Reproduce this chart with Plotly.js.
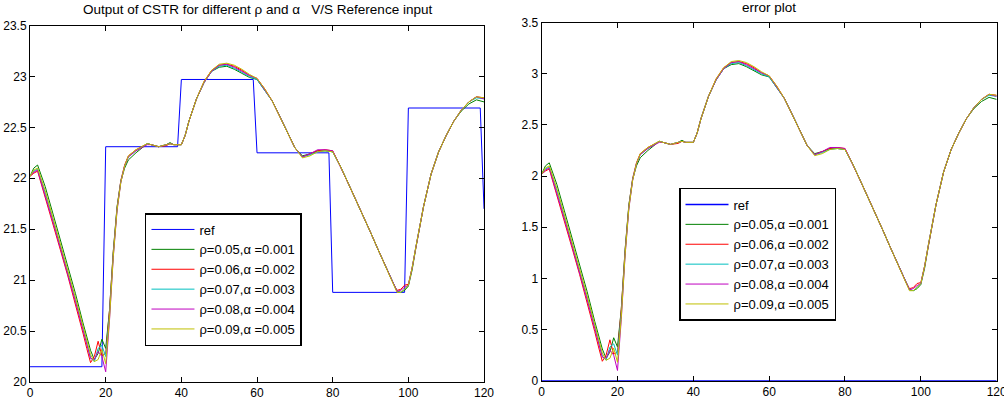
<!DOCTYPE html>
<html>
<head>
<meta charset="utf-8">
<script src="https://cdn.plot.ly/plotly-3.0.1.min.js"></script>
<style>
  html, body { margin: 0; padding: 0; background: #ffffff; }
  #chart { width: 1004px; height: 414px; }
</style>
</head>
<body>
<div id="chart"></div>
<script>
// Sample times shared by the controller output curves
const t = [0, 1, 2, 4, 6, 8, 10, 12, 14, 15, 16, 17, 18, 19, 20, 21, 22, 23, 24, 25, 26, 28, 30, 31, 32, 34, 36, 37, 38, 40,
           41, 42, 44, 46, 48, 50, 52, 54, 56, 58, 60, 62, 64, 66, 68, 70, 72, 74, 76, 78, 80, 82, 84, 86, 88, 90, 92, 94, 96, 97,
           98, 99, 100, 101, 102, 104, 106, 108, 110, 112, 114, 116, 118, 120];

// Reference input (staircase)
const refT = [0, 19, 20, 39, 40, 59, 60, 79, 80, 99, 100, 119, 120];
const refY = [20.15, 20.15, 22.31, 22.31, 22.97, 22.97, 22.25, 22.25, 20.88, 20.88, 22.69, 22.69, 21.70];

// CSTR output for each (rho, alpha) pair
const out1 = [22.02, 22.10, 22.13, 21.92, 21.66, 21.40, 21.14, 20.87, 20.58, 20.45, 20.31, 20.22, 20.28, 20.42, 20.33, 20.70, 21.28, 21.72, 21.97, 22.10, 22.18, 22.25, 22.31, 22.34, 22.33, 22.31, 22.33, 22.35, 22.33, 22.33,
              22.42, 22.56, 22.78, 22.94, 23.05, 23.09, 23.10, 23.07, 23.03, 22.99, 22.97, 22.87, 22.76, 22.61, 22.46, 22.30, 22.22, 22.24, 22.27, 22.27, 22.26, 22.12, 21.96, 21.80, 21.64, 21.47, 21.30, 21.13, 20.97, 20.89,
              20.88, 20.90, 20.94, 21.10, 21.32, 21.72, 22.04, 22.26, 22.42, 22.56, 22.66, 22.73, 22.77, 22.75];
const out2 = [22.02, 22.05, 22.07, 21.82, 21.56, 21.30, 21.04, 20.77, 20.48, 20.33, 20.19, 20.25, 20.40, 20.26, 20.28, 20.70, 21.27, 21.71, 21.98, 22.13, 22.22, 22.28, 22.32, 22.34, 22.33, 22.31, 22.32, 22.34, 22.33, 22.33,
              22.42, 22.56, 22.78, 22.95, 23.06, 23.11, 23.12, 23.10, 23.06, 23.01, 22.98, 22.88, 22.76, 22.61, 22.46, 22.30, 22.21, 22.24, 22.27, 22.28, 22.27, 22.12, 21.96, 21.80, 21.64, 21.47, 21.30, 21.13, 20.97, 20.90,
              20.91, 20.95, 20.96, 21.12, 21.33, 21.72, 22.04, 22.26, 22.42, 22.56, 22.67, 22.75, 22.80, 22.79];
const out3 = [22.02, 22.07, 22.09, 21.86, 21.60, 21.34, 21.08, 20.81, 20.53, 20.39, 20.24, 20.20, 20.33, 20.36, 20.25, 20.66, 21.25, 21.70, 21.97, 22.12, 22.21, 22.27, 22.32, 22.34, 22.33, 22.31, 22.33, 22.34, 22.33, 22.33,
              22.42, 22.56, 22.78, 22.94, 23.05, 23.10, 23.11, 23.08, 23.04, 23.00, 22.97, 22.87, 22.76, 22.61, 22.46, 22.30, 22.21, 22.23, 22.26, 22.27, 22.26, 22.12, 21.96, 21.80, 21.64, 21.47, 21.30, 21.13, 20.97, 20.89,
              20.88, 20.91, 20.95, 21.12, 21.33, 21.72, 22.04, 22.26, 22.42, 22.56, 22.67, 22.75, 22.79, 22.78];
const out4 = [22.02, 22.06, 22.08, 21.84, 21.58, 21.32, 21.06, 20.79, 20.51, 20.37, 20.23, 20.22, 20.30, 20.25, 20.10, 20.60, 21.22, 21.68, 21.96, 22.12, 22.21, 22.27, 22.31, 22.33, 22.33, 22.31, 22.33, 22.34, 22.33, 22.33,
              22.42, 22.56, 22.78, 22.94, 23.05, 23.11, 23.12, 23.09, 23.05, 23.01, 22.98, 22.87, 22.76, 22.61, 22.46, 22.30, 22.21, 22.24, 22.28, 22.28, 22.27, 22.12, 21.96, 21.80, 21.64, 21.47, 21.30, 21.13, 20.97, 20.89,
              20.90, 20.93, 20.95, 21.12, 21.33, 21.72, 22.04, 22.26, 22.42, 22.56, 22.67, 22.75, 22.80, 22.78];
const out5 = [22.02, 22.08, 22.10, 21.88, 21.62, 21.36, 21.10, 20.83, 20.55, 20.41, 20.27, 20.20, 20.22, 20.32, 20.18, 20.62, 21.23, 21.69, 21.96, 22.12, 22.22, 22.28, 22.32, 22.34, 22.33, 22.31, 22.33, 22.34, 22.33, 22.33,
              22.42, 22.56, 22.78, 22.95, 23.06, 23.12, 23.13, 23.11, 23.07, 23.02, 22.98, 22.88, 22.76, 22.61, 22.46, 22.30, 22.20, 22.22, 22.26, 22.27, 22.26, 22.12, 21.96, 21.80, 21.64, 21.47, 21.30, 21.13, 20.97, 20.88,
              20.88, 20.91, 20.95, 21.12, 21.33, 21.72, 22.04, 22.26, 22.42, 22.56, 22.67, 22.75, 22.80, 22.79];

// Error plot: reference line and the curves for each (rho, alpha) pair
const errRefT = [0, 120];
const errRefY = [0, 0];
const err1 = [2.02, 2.10, 2.13, 1.92, 1.66, 1.40, 1.14, 0.87, 0.58, 0.45, 0.31, 0.22, 0.28, 0.42, 0.33, 0.70, 1.28, 1.72, 1.97, 2.10, 2.18, 2.25, 2.31, 2.34, 2.33, 2.31, 2.33, 2.35, 2.33, 2.33,
              2.42, 2.56, 2.78, 2.94, 3.05, 3.09, 3.10, 3.07, 3.03, 2.99, 2.97, 2.87, 2.76, 2.61, 2.46, 2.30, 2.22, 2.24, 2.27, 2.27, 2.26, 2.12, 1.96, 1.80, 1.64, 1.47, 1.30, 1.13, 0.97, 0.89,
              0.88, 0.90, 0.94, 1.10, 1.32, 1.72, 2.04, 2.26, 2.42, 2.56, 2.66, 2.73, 2.77, 2.75];
const err2 = [2.02, 2.05, 2.07, 1.82, 1.56, 1.30, 1.04, 0.77, 0.48, 0.33, 0.19, 0.25, 0.40, 0.26, 0.28, 0.70, 1.27, 1.71, 1.98, 2.13, 2.22, 2.28, 2.32, 2.34, 2.33, 2.31, 2.32, 2.34, 2.33, 2.33,
              2.42, 2.56, 2.78, 2.95, 3.06, 3.11, 3.12, 3.10, 3.06, 3.01, 2.98, 2.88, 2.76, 2.61, 2.46, 2.30, 2.21, 2.24, 2.27, 2.28, 2.27, 2.12, 1.96, 1.80, 1.64, 1.47, 1.30, 1.13, 0.97, 0.90,
              0.91, 0.95, 0.96, 1.12, 1.33, 1.72, 2.04, 2.26, 2.42, 2.56, 2.67, 2.75, 2.80, 2.79];
const err3 = [2.02, 2.07, 2.09, 1.86, 1.60, 1.34, 1.08, 0.81, 0.53, 0.39, 0.24, 0.20, 0.33, 0.36, 0.25, 0.66, 1.25, 1.70, 1.97, 2.12, 2.21, 2.27, 2.32, 2.34, 2.33, 2.31, 2.33, 2.34, 2.33, 2.33,
              2.42, 2.56, 2.78, 2.94, 3.05, 3.10, 3.11, 3.08, 3.04, 3.00, 2.97, 2.87, 2.76, 2.61, 2.46, 2.30, 2.21, 2.23, 2.26, 2.27, 2.26, 2.12, 1.96, 1.80, 1.64, 1.47, 1.30, 1.13, 0.97, 0.89,
              0.88, 0.91, 0.95, 1.12, 1.33, 1.72, 2.04, 2.26, 2.42, 2.56, 2.67, 2.75, 2.79, 2.78];
const err4 = [2.02, 2.06, 2.08, 1.84, 1.58, 1.32, 1.06, 0.79, 0.51, 0.37, 0.23, 0.22, 0.30, 0.25, 0.10, 0.60, 1.22, 1.68, 1.96, 2.12, 2.21, 2.27, 2.31, 2.33, 2.33, 2.31, 2.33, 2.34, 2.33, 2.33,
              2.42, 2.56, 2.78, 2.94, 3.05, 3.11, 3.12, 3.09, 3.05, 3.01, 2.98, 2.87, 2.76, 2.61, 2.46, 2.30, 2.21, 2.24, 2.28, 2.28, 2.27, 2.12, 1.96, 1.80, 1.64, 1.47, 1.30, 1.13, 0.97, 0.89,
              0.90, 0.93, 0.95, 1.12, 1.33, 1.72, 2.04, 2.26, 2.42, 2.56, 2.67, 2.75, 2.80, 2.78];
const err5 = [2.02, 2.08, 2.10, 1.88, 1.62, 1.36, 1.10, 0.83, 0.55, 0.41, 0.27, 0.20, 0.22, 0.32, 0.18, 0.62, 1.23, 1.69, 1.96, 2.12, 2.22, 2.28, 2.32, 2.34, 2.33, 2.31, 2.33, 2.34, 2.33, 2.33,
              2.42, 2.56, 2.78, 2.95, 3.06, 3.12, 3.13, 3.11, 3.07, 3.02, 2.98, 2.88, 2.76, 2.61, 2.46, 2.30, 2.20, 2.22, 2.26, 2.27, 2.26, 2.12, 1.96, 1.80, 1.64, 1.47, 1.30, 1.13, 0.97, 0.88,
              0.88, 0.91, 0.95, 1.12, 1.33, 1.72, 2.04, 2.26, 2.42, 2.56, 2.67, 2.75, 2.80, 2.79];

const seriesNames = ['ρ=0.05,α =0.001', 'ρ=0.06,α =0.002', 'ρ=0.07,α =0.003', 'ρ=0.08,α =0.004', 'ρ=0.09,α =0.005'];
const seriesColors = ['#008000', '#ff0000', '#00bfbf', '#bf00bf', '#bfbf00'];
const refColor = '#0000ff';
const xTicks = [0, 20, 40, 60, 80, 100, 120];

const FONT = 'Liberation Sans, Arial, Helvetica, sans-serif';

const outputs = [out1, out2, out3, out4, out5];
const errors = [err1, err2, err3, err4, err5];

const traces = [];
traces.push({ x: refT, y: refY, name: 'ref', type: 'scatter', mode: 'lines',
  line: { color: refColor, width: 1 }, xaxis: 'x', yaxis: 'y', legend: 'legend' });
outputs.forEach((ys, i) => traces.push({
  x: t, y: ys, name: seriesNames[i], type: 'scatter', mode: 'lines',
  line: { color: seriesColors[i], width: 1 }, xaxis: 'x', yaxis: 'y', legend: 'legend'
}));
traces.push({ x: errRefT, y: errRefY, name: 'ref', type: 'scatter', mode: 'lines',
  line: { color: refColor, width: 1.5 }, xaxis: 'x2', yaxis: 'y2', legend: 'legend2' });
errors.forEach((ys, i) => traces.push({
  x: t, y: ys, name: seriesNames[i], type: 'scatter', mode: 'lines',
  line: { color: seriesColors[i], width: 1 }, xaxis: 'x2', yaxis: 'y2', legend: 'legend2'
}));

function axisStyle(extra) {
  return Object.assign({
    showline: true, linecolor: '#000000', linewidth: 1, mirror: 'ticks',
    ticks: 'inside', ticklen: 5, tickwidth: 1, tickcolor: '#000000',
    showgrid: false, zeroline: false, fixedrange: true,
    ticklabeloverflow: 'allow',
    tickfont: { family: FONT, size: 12, color: '#000000' }
  }, extra);
}

function legendStyle(x, y) {
  return {
    x: x, y: y, xanchor: 'left', yanchor: 'top', xref: 'paper', yref: 'paper',
    bgcolor: '#ffffff', bordercolor: '#000000', borderwidth: 1.5,
    font: { family: FONT, size: 13, color: '#000000' },
    itemwidth: 43, tracegroupgap: 0
  };
}

const layout = {
  width: 1004, height: 414,
  margin: { l: 0, r: 0, t: 0, b: 0 },
  paper_bgcolor: '#ffffff', plot_bgcolor: '#ffffff',
  font: { family: FONT, size: 12, color: '#000000' },
  xaxis: axisStyle({ domain: [0.0299, 0.4821], range: [0, 120], tickvals: xTicks, anchor: 'y' }),
  yaxis: axisStyle({ domain: [0.0773, 0.9384], range: [20, 23.5], dtick: 0.5, tick0: 20, anchor: 'x' }),
  xaxis2: axisStyle({ domain: [0.5395, 0.9927], range: [0, 120], tickvals: xTicks, anchor: 'y2' }),
  yaxis2: axisStyle({ domain: [0.0804, 0.9452], range: [0, 3.5], dtick: 0.5, tick0: 0, anchor: 'x2' }),
  showlegend: true,
  legend: legendStyle(0.1444, 0.4855),
  legend2: legendStyle(0.6763, 0.5459),
  annotations: [
    { text: 'Output of CSTR for different ρ and α\u00a0\u00a0\u00a0V/S Reference input', xref: 'paper', yref: 'paper',
      x: 0.2560, y: 0.976, xanchor: 'center', yanchor: 'middle', showarrow: false,
      font: { family: FONT, size: 13.5, color: '#000000' } },
    { text: 'error plot', xref: 'paper', yref: 'paper',
      x: 0.7661, y: 0.981, xanchor: 'center', yanchor: 'middle', showarrow: false,
      font: { family: FONT, size: 13.5, color: '#000000' } }
  ]
};

Plotly.newPlot('chart', traces, layout, { displayModeBar: false, staticPlot: true });
</script>
</body>
</html>
